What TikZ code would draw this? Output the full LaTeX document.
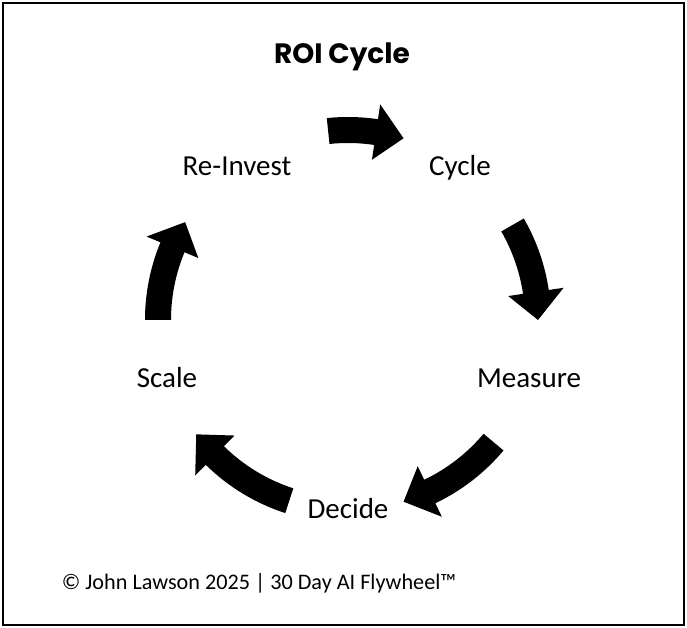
\documentclass[tikz,border=0pt]{standalone}
\usepackage{fontspec}
\setmainfont{Carlito}
\newfontfamily\titlefont{Poppins}
\usepackage{tikz}
\usetikzlibrary{positioning, calc}

% block arrow along the cycle circle: start angle, end angle (clockwise)
\newcommand{\cyclearrow}[2]{%
  \pgfmathsetmacro{\headstart}{#2+8.5}%
  \fill (#1:203) arc[start angle=#1, end angle=\headstart, radius=203]
    -- (\headstart:218) -- (#2:190) -- (\headstart:162) -- (\headstart:177)
    arc[start angle=\headstart, end angle=#1, radius=177] -- cycle;%
}

\begin{document}
\begin{tikzpicture}[
  x=1pt, y=1pt,
  steplabel/.style={font=\fontsize{29}{32}\selectfont, inner sep=0pt}
]
  \useasboundingbox (-348, 320) rectangle (339, -308);
  \draw[line width=1.6pt] (-345, 317) rectangle (336, -305);

  \node[font=\titlefont\bfseries\fontsize{28}{30}\selectfont] (title) at (-6, 263) {ROI Cycle};

  \node[steplabel] (cycle) at (112, 152) {Cycle};
  \node[steplabel] (measure) at (181, -58) {Measure};
  \node[steplabel] (decide) at (0, -189) {Decide};
  \node[steplabel] (scale) at (-181, -58) {Scale};
  \node[steplabel] (reinvest) at (-111, 154) {Re-Invest};

  \cyclearrow{96}{73}
  \cyclearrow{30}{0}
  \cyclearrow{-40}{-73}
  \cyclearrow{-108}{-143}
  \cyclearrow{180}{149}

  \node[font=\fontsize{22.2}{26}\selectfont] (credit) at (-89, -263) {© John Lawson 2025 | 30 Day AI Flywheel™};
\end{tikzpicture}
\end{document}
